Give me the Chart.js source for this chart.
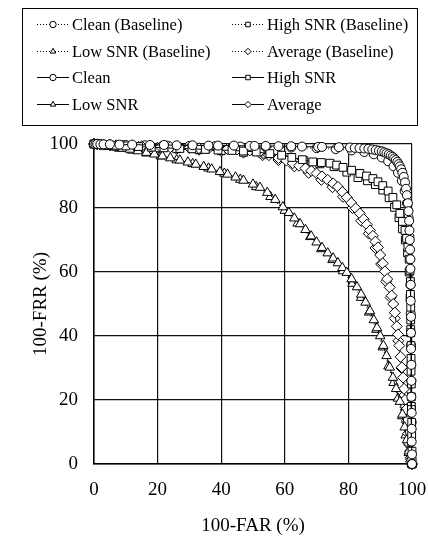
<!DOCTYPE html>
<html>
<head>
<meta charset="utf-8">
<script src="https://cdn.jsdelivr.net/npm/chart.js@4.4.1/dist/chart.umd.min.js"></script>
<style>
  html, body { margin: 0; padding: 0; background: #fff; }
  #wrap { width: 428px; height: 540px; position: relative; }
</style>
</head>
<body>
<div id="wrap"><canvas id="roc"></canvas></div>
<script>
// axis ticks
const xTicks = [0, 20, 40, 60, 80, 100];
const yTicks = [0, 20, 40, 60, 80, 100];

// proposed system: 100-FAR (x) and 100-FRR (y)
const cleanFar = [0,0.5,1,2,3,5,8,12,17.6,22,26,31,36,39,44,49,50.5,54,58,62,65.4,70.5,71.7,77,80.5,82,83.5,85,86.3,87.5,88.6,89.6,90.5,91.3,92,92.7,93.3,93.9,94.4,94.9,95.4,95.8,96.2,96.6,97,97.4,97.8,98.1,98.4,98.7,98.9,99.1,99.2,99.3,99.4,99.5,99.5,99.6,99.6,99.7,99.7,99.7,99.8,99.8,99.8,99.9,99.9,99.9,100,100];
const cleanFrr = [100,100,100,99.9,99.9,99.9,99.8,99.8,99.7,99.7,99.6,99.6,99.5,99.5,99.5,99.4,99.4,99.4,99.3,99.3,99.2,99.1,99.1,99,98.9,98.8,98.7,98.6,98.5,98.3,98.1,97.9,97.7,97.4,97.1,96.8,96.4,96,95.5,95,94.4,93.7,93,92.1,91,89.7,88,86,84,81.5,79,76,73,70,67,64,61,56,51,46,41,36,31,26,21,16,11,7,3,0];

const highFar = [0,1,2,4,7,10,14,18,22,27,30.8,35,39,43.4,47,51,55.3,59,62.2,65.5,68.8,71.5,74.2,76.3,78.3,81,83.6,85.7,87.7,89.3,90.8,92.5,94,95.2,96.2,97,97.8,98.3,98.7,99.1,99.4,99.5,99.5,99.6,99.6,99.6,99.7,99.7,99.7,99.8,99.8,99.8,99.9,99.9,100,100];
const highFrr = [100,99.9,99.8,99.7,99.6,99.4,99.2,99,98.8,98.6,98.5,98.3,98.1,98,97.8,97.5,97,96.5,95.8,95.1,94.4,94.2,94,93.4,92.7,91.8,90.8,90,89.2,88.2,87,85.3,83.3,81,78.3,75.8,73,70.5,67.7,64,60.5,57,53,49,45,41,37,33,29,25,21,17,13,9,4,0];

const lowFar = [0,1,2,3.5,5,7,9,11.3,13.8,16.5,19,21.5,24,27,29.5,32,34.5,37,39.6,42,44.5,47,50,52.2,54.5,57,59.4,61.3,63,64.8,66.5,68.3,70,71.7,73.5,75.2,76.7,78.1,79.5,81,82.7,84,85.4,86.8,88,89,90,91,92,93,94,95,96.2,97,97.7,98.4,99,99.5,100];
const lowFrr = [100,99.8,99.6,99.4,99.2,98.9,98.6,98.3,97.8,97.3,96.8,96.2,95.6,94.9,94.3,93.6,92.9,92.1,91.3,90.5,89.6,88.6,87.4,86.4,84.8,82.6,80.3,78.5,76.8,75,73.2,71.2,69.3,67.6,65.9,64.3,62.8,61.3,59.8,57.8,55.3,53,50.5,47.8,45,42.5,40,37,33.8,30.2,27,23.5,19.5,15.5,11.5,7.5,4,1.5,0];

const avgFar = [0,1,2,3,5,7,9,12,15,18,21,24,27,30,33,36,39,42,45,49,52,55,58,60.5,62.5,64.5,66.5,68.3,70,71.7,73.5,75.2,76.7,78.1,79.5,80.9,82.3,83.6,84.8,85.8,86.8,87.7,88.5,89.3,90,90.8,91.5,92.2,93,93.6,94.1,94.6,95.2,95.6,96,96.4,96.8,97.2,97.5,97.8,98.1,98.4,98.8,99.1,99.4,99.7,100];
const avgFrr = [100,99.9,99.8,99.8,99.7,99.6,99.5,99.4,99.3,99.2,99.1,99,98.9,98.8,98.7,98.6,98.5,98.4,98.3,98,97.4,96.5,95.6,94.8,94,93.2,92.4,91.6,90.8,89.9,88.8,87.7,86.6,85,83.3,81.6,79.9,78.3,76.5,74.8,73,71.3,69.5,67.7,65.3,62.7,60.2,57.8,55.2,52.6,50,47.3,43,40.5,37,33.5,30.2,27,23.5,20,17,13.5,9.5,6.5,4,1.5,0];

// baseline system (mostly hidden under the proposed curves)
const blCleanFar = [0,2,5,10,16,23,30,38,46,54,62,70,76,81,85,88,90.5,92.5,94.2,95.6,96.8,97.7,98.4,98.9,99.2,99.4,99.5,99.6,99.7,99.8,99.9,100];
const blCleanFrr = [100,99.9,99.8,99.7,99.6,99.5,99.4,99.3,99.2,99.1,98.9,98.7,98.4,98,97.5,96.8,95.8,94.6,93,91,88.5,85.3,81.5,77,71,64,56,47,37,26,13,0];

const blHighFar = [0,2,5,9,14,20,26,33,40,47,54,60,66,71,75.5,79.5,83,86,88.5,90.8,92.8,94.5,95.9,97,97.9,98.6,99.1,99.4,99.6,99.7,99.8,100];
const blHighFrr = [100,99.8,99.6,99.4,99.1,98.8,98.5,98.2,97.9,97.4,96.8,95.8,94.8,93.8,92.9,91.2,89.5,88.5,87.3,85.6,83.2,80.2,77,73.5,70,66,60,52,42,31,18,0];

const blLowFar = [0,2,4.5,8,12,16.5,21,26,31,36,41,46,51,55.5,60,64,68,71.5,75,78.3,81.3,84,86.5,88.8,90.8,92.6,94.2,95.6,96.9,98,99,100];
const blLowFrr = [100,99.6,99.2,98.6,98,97.1,96.2,95,93.8,92.4,90.8,88.9,86.6,83.5,79.2,75.2,71,67.2,63.8,60.3,56.4,52,47.4,42,36.5,30.6,25.4,20.5,15,9,3.5,0];

const blAvgFar = [0,2,5,9,14,20,26,33,40,47,53,58,63,67.5,71.5,75,78.3,81.3,84,86.4,88.5,90.3,91.9,93.3,94.6,95.7,96.7,97.6,98.4,99.1,99.6,100];
const blAvgFrr = [100,99.8,99.6,99.4,99.1,98.8,98.5,98.2,97.8,97.3,96.5,95,93,91,88.8,86.5,83.5,80,76,72,67.5,62.5,57,52,45.5,38.5,30,21.5,13,6,2,0];

const seriesLabels = ['Clean (Baseline)', 'High SNR (Baseline)', 'Low SNR (Baseline)', 'Average (Baseline)',
                      'Clean', 'High SNR', 'Low SNR', 'Average'];

function pts(xs, ys) {
    return xs.map((x, i) => ({ x: x, y: ys[i] }));
}

const markers = [
    { style: 'circle', radius: 4.5 },
    { style: 'rect', radius: 5.5 },
    { style: 'triangle', radius: 5.5 },
    { style: 'rectRot', radius: 5.5 }
];

function makeSet(i, data, baseline) {
    const m = markers[i % 4];
    return {
        label: seriesLabels[i],
        data: data,
        showLine: true,
        borderColor: '#000',
        borderWidth: 1,
        borderDash: baseline ? [1, 2] : [],
        pointStyle: m.style,
        pointRadius: m.radius,
        pointBackgroundColor: '#fff',
        pointBorderColor: '#000',
        pointBorderWidth: 1,
        order: baseline ? 1 : 0,
        clip: false
    };
}

const datasets = [
    makeSet(0, pts(blCleanFar, blCleanFrr), true),
    makeSet(1, pts(blHighFar, blHighFrr), true),
    makeSet(2, pts(blLowFar, blLowFrr), true),
    makeSet(3, pts(blAvgFar, blAvgFrr), true),
    makeSet(4, pts(cleanFar, cleanFrr), false),
    makeSet(5, pts(highFar, highFrr), false),
    makeSet(6, pts(lowFar, lowFrr), false),
    makeSet(7, pts(avgFar, avgFrr), false)
];

// boxed two-column legend above the plot
const legendBox = {
    id: 'legendBox',
    afterDraw(chart) {
        const ctx = chart.ctx;
        ctx.save();
        ctx.strokeStyle = '#000';
        ctx.lineWidth = 1;
        ctx.strokeRect(22.5, 8.5, 395, 117);
        ctx.font = '16.5px "Liberation Serif"';
        ctx.textBaseline = 'middle';
        ctx.fillStyle = '#000';
        chart.data.datasets.forEach((ds, i) => {
            const col = i % 2;
            const row = Math.floor(i / 2);
            const x0 = col ? 232 : 37;
            const y = Math.round(24 + row * 26.7) + 0.5;
            ctx.strokeStyle = '#000';
            ctx.setLineDash(ds.borderDash);
            ctx.beginPath();
            ctx.moveTo(x0, y);
            ctx.lineTo(x0 + 32, y);
            ctx.stroke();
            ctx.setLineDash([]);
            ctx.fillStyle = '#fff';
            Chart.helpers.drawPoint(ctx, { pointStyle: ds.pointStyle, radius: 3.2, borderWidth: 1, rotation: 0 }, x0 + 16, y);
            ctx.fillStyle = '#000';
            ctx.fillText(ds.label, x0 + 35, y + 1);
        });
        ctx.restore();
    }
};

const axisFont = { family: '"Liberation Serif"', size: 19 };

new Chart(document.getElementById('roc'), {
    type: 'scatter',
    data: { datasets: datasets },
    options: {
        responsive: true,
        maintainAspectRatio: false,
        animation: false,
        layout: { padding: { top: 144, right: 16, left: 0, bottom: 0 } },
        plugins: {
            legend: { display: false },
            tooltip: { enabled: false }
        },
        scales: {
            x: {
                type: 'linear',
                min: 0,
                max: 100,
                afterBuildTicks: s => { s.ticks = xTicks.map(v => ({ value: v })); },
                afterFit: s => { s.height = 76; s.paddingLeft = 0; s.paddingRight = 0; },
                ticks: { color: '#000', font: axisFont, padding: 15 },
                grid: { color: '#111', lineWidth: 1.2, drawTicks: false },
                border: { color: '#000', width: 1.5 },
                title: { display: true, text: '100-FAR (%)', color: '#000', font: axisFont, padding: { top: 0, bottom: 3 } }
            },
            y: {
                type: 'linear',
                min: 0,
                max: 100,
                afterBuildTicks: s => { s.ticks = yTicks.map(v => ({ value: v })); },
                afterFit: s => { s.width = 94; s.paddingTop = 0; s.paddingBottom = 0; },
                ticks: { color: '#000', font: axisFont, padding: 16 },
                grid: { color: '#111', lineWidth: 1.2, drawTicks: false },
                border: { color: '#000', width: 1.5 },
                title: { display: true, text: '100-FRR (%)', color: '#000', font: axisFont, padding: { top: 30, bottom: 0 } }
            }
        }
    },
    plugins: [legendBox]
});
</script>
</body>
</html>
